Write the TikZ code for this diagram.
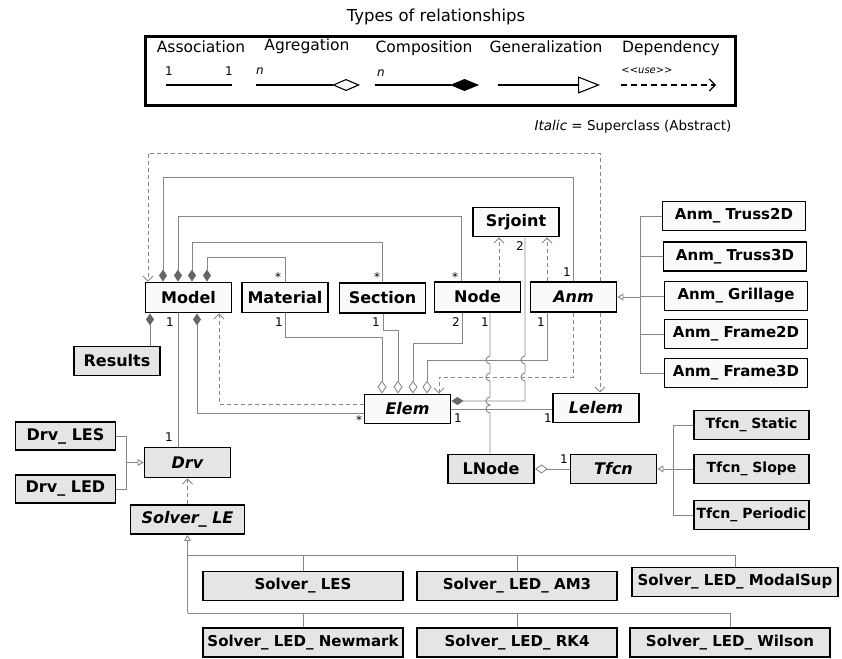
\documentclass[tikz,border=0pt]{standalone}
\usepackage{fontspec}
\setmainfont{DejaVu Sans}
\usetikzlibrary{arrows.meta}

\begin{document}
\begin{tikzpicture}[x=1pt, y=-1pt,
  cls/.style    = {draw, line width=1.9pt, fill=black!2, inner sep=1pt,
                   minimum width=86pt, minimum height=30pt,
                   font=\fontsize{16}{18}\selectfont\bfseries},
  acls/.style   = {cls, font=\fontsize{16}{18}\selectfont\bfseries\itshape},
  gcls/.style   = {cls, fill=black!10},
  gacls/.style  = {acls, fill=black!10},
  anmsub/.style = {cls, minimum width=143pt, minimum height=29pt,
                   font=\fontsize{15}{17}\selectfont\bfseries},
  tfsub/.style  = {gcls, minimum width=115pt, minimum height=29pt,
                   font=\fontsize{14}{16}\selectfont\bfseries},
  solsub/.style = {gcls, minimum width=200pt, minimum height=29pt,
                   font=\fontsize{15}{17}\selectfont\bfseries},
  con/.style    = {draw=black!47, line width=0.9pt},
  comp/.style   = {con, {Diamond[fill=black!60, color=black!60, length=12pt, width=8pt]}-},
  aggr/.style   = {con, {Diamond[fill=white, length=13pt, width=9pt]}-},
  gen/.style    = {con, -{Triangle[fill=white, length=6pt, width=7pt]}},
  dep/.style    = {con, dashed, dash pattern=on 4pt off 3pt,
                   -{Straight Barb[length=5pt, width=10pt]}},
  mult/.style   = {font=\fontsize{12}{12}\selectfont, inner sep=0pt},
  leg/.style    = {font=\fontsize{15.5}{17}\selectfont, inner sep=0pt},
  legline/.style= {line width=1.1pt}
]
\useasboundingbox (0,0) rectangle (842,658);

\node[font=\fontsize{16.5}{18}\selectfont] (title) at (436,17) {Types of relationships};
\node[draw, line width=2.4pt, minimum width=590pt, minimum height=69pt, inner sep=0pt]
     (legend) at (440.5,71) {};
\node[leg] (lAsso) at (201,47) {Association};
\node[leg] (lAggr) at (307,46) {Agregation};
\node[leg] (lComp) at (424,48) {Composition};
\node[leg] (lGen)  at (546,47) {Generalization};
\node[leg] (lDep)  at (671,48) {Dependency};

\coordinate (as1) at (166,85);  \coordinate (as2) at (232,85);
\coordinate (ag1) at (256,85);  \coordinate (ag2) at (360,85);
\coordinate (co1) at (375,85);  \coordinate (co2) at (479,85);
\coordinate (ge1) at (498,85);  \coordinate (ge2) at (600,85);
\coordinate (de1) at (621,85);  \coordinate (de2) at (716,85);
\draw[legline] (as1) -- (as2);
\draw[legline, -{Diamond[fill=white, length=28pt, width=12pt]}] (ag1) -- (ag2);
\draw[legline, -{Diamond[fill=black, length=29pt, width=12pt]}] (co1) -- (co2);
\draw[legline, -{Triangle[fill=white, length=22pt, width=17pt]}] (ge1) -- (ge2);
\draw[legline, dashed, dash pattern=on 6pt off 4pt,
      -{Straight Barb[length=6pt, width=12pt]}] (de1) -- (de2);
\node[mult] (as1n) at (169,71) {1};
\node[mult] (as2n) at (229,71) {1};
\node[mult, font=\fontsize{12}{12}\selectfont\itshape] (agn) at (260,71) {n};
\node[mult, font=\fontsize{12}{12}\selectfont\itshape] (con) at (381,73) {n};
\node[mult, font=\fontsize{10}{10}\selectfont\itshape] (use) at (647,71) {<{}<use>{}>};
\node[font=\fontsize{13.5}{15}\selectfont, inner sep=0pt] (note) at (633,127)
     {\textit{Italic} = Superclass (Abstract)};

\node[cls] (Model) at (188.5,297.5) {Model};
\node[cls] (Material) at (285,297.5) {Material};
\node[cls] (Section) at (382.5,298) {Section};
\node[cls] (Node) at (477.5,297) {Node};
\node[acls] (Anm) at (573.5,297) {Anm};
\node[cls, minimum height=29pt] (Srjoint) at (516,222) {Srjoint};
\node[gcls, minimum height=29pt] (Results) at (117,361) {Results};
\node[acls, minimum height=29pt] (Elem) at (407.5,409) {Elem};
\node[acls, minimum height=29pt] (Lelem) at (596,408) {Lelem};
\node[gcls, minimum width=100pt, minimum height=28pt] (DrvLES) at (65.5,436) {Drv\_ LES};
\node[gcls, minimum width=100pt, minimum height=28pt] (DrvLED) at (65.5,489) {Drv\_ LED};
\node[gacls] (Drv) at (187.5,462.5) {Drv};
\node[gacls, minimum width=114pt, minimum height=29pt] (SolverLE) at (187.5,519.5) {Solver\_ LE};
\node[gcls, minimum height=29pt] (LNode) at (491,469) {LNode};
\node[gacls, minimum height=29pt] (Tfcn) at (613.5,469) {Tfcn};

\node[anmsub] (Truss2D)  at (734,216)   {Anm\_ Truss2D};
\node[anmsub] (Truss3D)  at (735,256.5) {Anm\_ Truss3D};
\node[anmsub] (Grillage) at (736,296)   {Anm\_ Grillage};
\node[anmsub] (Frame2D)  at (736,334)   {Anm\_ Frame2D};
\node[anmsub] (Frame3D)  at (736,373)   {Anm\_ Frame3D};

\node[tfsub] (TStatic)   at (751.5,425) {Tfcn\_ Static};
\node[tfsub] (TSlope)    at (751.5,469) {Tfcn\_ Slope};
\node[tfsub] (TPeriodic) at (751.5,515) {Tfcn\_ Periodic};

\node[solsub] (SolLES)     at (303,586)   {Solver\_ LES};
\node[solsub] (SolAM3)     at (517,586)   {Solver\_ LED\_ AM3};
\node[solsub, minimum width=206pt] (SolModal) at (735,582) {Solver\_ LED\_ ModalSup};
\node[solsub] (SolNewmark) at (303,642.5) {Solver\_ LED\_ Newmark};
\node[solsub] (SolRK4)     at (517,642.5) {Solver\_ LED\_ RK4};
\node[solsub] (SolWilson)  at (730,642.5) {Solver\_ LED\_ Wilson};

\coordinate (anmbus) at (640,0);
\coordinate (tfbus)  at (673,0);
\coordinate (drvbus) at (126,0);
\coordinate (solbusA) at (0,555);
\coordinate (solbusB) at (0,613);

\draw[comp] (163,0 |- Model.north) -- (163,177) -| (573,0 |- Anm.north);
\draw[comp] (178,0 |- Model.north) -- (178,216) -| (461,0 |- Node.north);
\draw[comp] (192,0 |- Model.north) -- (192,242) -| (382,0 |- Section.north);
\draw[comp] (207,0 |- Model.north) -- (207,257) -| (Material.north);
\draw[dep] (600,0 |- Anm.north) -- (600,153) -| (148,0 |- Model.north);
\draw[dep] (600,0 |- Anm.south) -- (600,0 |- Lelem.north);
\draw[dep] (499,0 |- Node.north) -- (499,0 |- Srjoint.south);
\draw[dep] (547,0 |- Anm.north) -- (547,0 |- Srjoint.south);

\draw[comp] (150,0 |- Model.south) -- (150,0 |- Results.north);
\draw[con] (178,0 |- Model.south) -- (178,0 |- Drv.north);
\draw[comp] (197,0 |- Model.south) |- (Elem.west |- 0,413);
\draw[dep] (Elem.west |- 0,404) -| (219,0 |- Model.south);

\draw[aggr] (382,0 |- Elem.north) -- (382,337) -| (Material.south);
\draw[aggr] (398,0 |- Elem.north) -- (398,330) -| (383,0 |- Section.south);
\draw[aggr] (413,0 |- Elem.north) -- (413,343) -| (462,0 |- Node.south);
\draw[aggr] (427,0 |- Elem.north) -- (427,360) -| (547,0 |- Anm.south);
\draw[dep] (573,0 |- Anm.south) -- (573,377) -| (439,0 |- Elem.north);

\draw[comp] (Elem.east |- 0,401) -- (525,401) -- (525,381)
      arc[start angle=-90, end angle=-270, radius=4pt] -- (525,364)
      arc[start angle=-90, end angle=-270, radius=4pt] -- (525,0 |- Srjoint.south);
\draw[con] (Elem.east |- 0,409) -- (Lelem.west |- 0,409);
\draw[con] (490,0 |- Node.south) -- (490,356)
      arc[start angle=90, end angle=270, radius=4pt] -- (490,373)
      arc[start angle=90, end angle=270, radius=4pt] -- (490,397)
      arc[start angle=90, end angle=270, radius=4pt]
      arc[start angle=90, end angle=270, radius=4pt] -- (490,0 |- LNode.north);
\draw[aggr] (LNode.east) -- (Tfcn.west);

\draw[con] (Truss2D.west) -- (anmbus |- Truss2D.west) -- (anmbus |- Frame3D.west) -- (Frame3D.west);
\foreach \n in {Truss3D, Grillage, Frame2D}
  \draw[con] (\n.west) -- (anmbus |- \n.west);
\draw[gen] (anmbus |- Anm.east) -- (Anm.east);

\draw[con] (TStatic.west) -- (tfbus |- TStatic.west) -- (tfbus |- TPeriodic.west) -- (TPeriodic.west);
\draw[gen] (TSlope.west) -- (Tfcn.east);

\draw[con] (DrvLES.east) -- (drvbus |- DrvLES.east) -- (drvbus |- DrvLED.east) -- (DrvLED.east);
\draw[gen] (drvbus |- Drv.west) -- (Drv.west);
\draw[dep] (SolverLE.north) -- (Drv.south);

\draw[gen] (SolverLE.south |- solbusB) -- (SolverLE.south);
\draw[con] (SolverLE.south |- solbusA) -| (SolModal.north);
\draw[con] (SolverLE.south |- solbusB) -| (SolWilson.north);
\foreach \n in {SolLES, SolAM3}
  \draw[con] (\n.north) -- (\n.north |- solbusA);
\foreach \n in {SolNewmark, SolRK4}
  \draw[con] (\n.north) -- (\n.north |- solbusB);

\node[mult] (mAnmT)  at (567,272) {1};
\node[mult] (mNodeT) at (455,277) {*};
\node[mult] (mSecT)  at (377,277) {*};
\node[mult] (mMatT)  at (278,277) {*};
\node[mult] (mModB)  at (170,322) {1};
\node[mult] (mDrvT)  at (169,437) {1};
\node[mult] (mMatB)  at (279,322) {1};
\node[mult] (mSecB)  at (376,322) {1};
\node[mult] (mNodeB) at (456,322) {2};
\node[mult] (mNodeC) at (485,322) {1};
\node[mult] (mAnmB)  at (541,322) {1};
\node[mult] (mSrj)   at (520,246) {2};
\node[mult] (mElemL) at (359,420) {*};
\node[mult] (mElemR) at (458,418) {1};
\node[mult] (mLelem) at (548,418) {1};
\node[mult] (mTfcn)  at (564,459) {1};
\end{tikzpicture}
\end{document}
